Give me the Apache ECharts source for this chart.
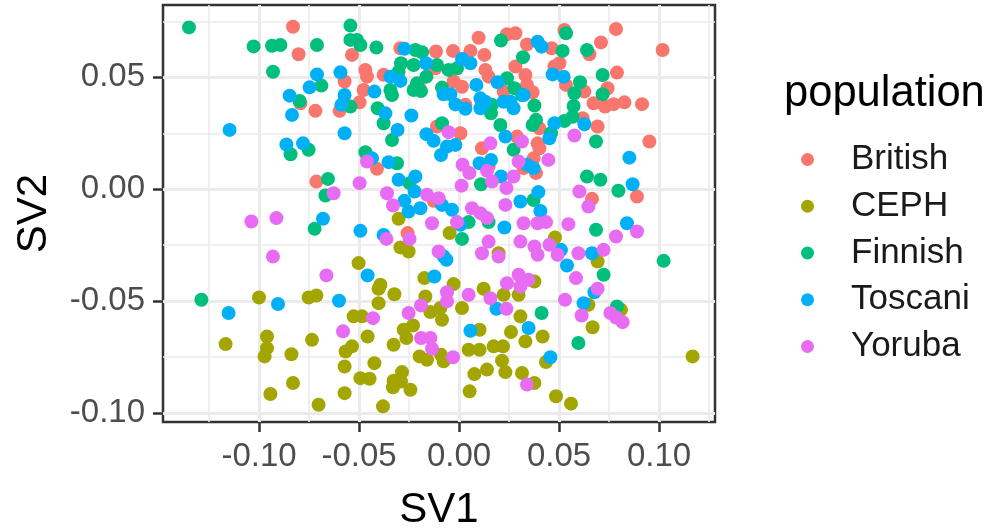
<!DOCTYPE html>
<html>
<head>
<meta charset="utf-8">
<script src="https://cdn.jsdelivr.net/npm/echarts@6/dist/echarts.min.js"></script>
<style>
html,body{margin:0;padding:0;background:#fff;}
#chart{width:993px;height:531px;}
</style>
</head>
<body>
<div id="chart"></div>
<script>
// ---- data ----
const populations = ['British', 'CEPH', 'Finnish', 'Toscani', 'Yoruba'];

const britishSV1 = [-0.083,-0.0802,-0.0572,-0.0793,-0.0718,-0.0597,0.0098,0.024,0.0282,0.034,-0.0535,-0.0293,-0.0115,-0.003,0.0057,0.0127,0.0282,0.0332,-0.0118,-0.0468,-0.046,-0.0377,0.0132,0.0148,-0.0027,0.0015,-0.0202,0.0223,-0.0477,0.034,0.0032,-0.0497,-0.011,0.0007,0.029,0.0527,0.0785,0.0463,0.0652,0.071,0.1018,0.0502,0.0477,0.0535,0.079,0.0743,0.0368,0.0627,0.0673,0.073,0.0773,0.0827,0.0915,0.0618,0.0693,0.0402,0.0952,0.0393,-0.0713,-0.041,0.0115,0.0323,-0.0127,-0.0257,0.0148,0.0402,0.0373,0.0385,0.089,0.0665];
const britishSV2 = [0.0726,0.0603,0.0481,0.0384,0.035,0.035,0.0677,0.0692,0.0697,0.0647,0.06,0.063,0.0615,0.0618,0.0618,0.06,0.0548,0.051,0.054,0.0533,0.0503,0.0511,0.0533,0.0503,0.0481,0.0458,0.0466,0.0436,0.0443,0.0466,0.0377,0.0388,0.028,0.025,0.0235,0.0711,0.0716,0.063,0.0603,0.0656,0.0622,0.0563,0.0548,0.0466,0.0521,0.0451,0.0433,0.0436,0.0384,0.0369,0.038,0.0388,0.038,0.0317,0.028,0.0272,0.0213,0.0205,0.0034,0.0091,0.0183,0.0094,-0.0052,-0.0196,0.0101,0.0183,0.0138,0.0072,-0.0033,-0.0043];

const cephSV1 = [-0.0302,-0.0047,-0.0293,-0.0252,0.0198,-0.0502,-0.0173,-0.0027,-0.0393,0.048,0.0693,0.0377,-0.1,-0.0752,-0.0713,-0.096,-0.0735,-0.1167,-0.096,-0.0972,-0.0838,-0.0567,-0.0572,-0.083,-0.0943,-0.0572,-0.0702,-0.0402,-0.0323,-0.0168,0.0123,0.0223,0.0298,-0.0402,-0.0143,-0.0093,0.0015,-0.0527,-0.0485,-0.0085,0.0307,-0.023,-0.0277,-0.0263,0.0103,0.026,-0.0457,-0.0327,-0.0535,0.0048,0.0103,0.0173,0.022,0.0332,-0.0197,-0.016,-0.009,-0.0077,-0.0423,0.0215,0.0232,0.014,0.0077,0.0315,-0.0285,-0.0327,-0.029,-0.0493,-0.0447,-0.033,-0.0243,0.0053,-0.038,0.0647,0.081,0.0418,0.0668,0.0435,0.1168,0.0377,0.0485,0.056];
const cephSV2 = [-0.0132,-0.0196,-0.026,-0.0278,-0.0286,-0.033,-0.0397,-0.0424,-0.0427,-0.0216,-0.0323,-0.0412,-0.0484,-0.0484,-0.0475,-0.0658,-0.0673,-0.0692,-0.071,-0.0747,-0.0737,-0.0725,-0.0792,-0.0866,-0.0915,-0.0911,-0.0963,-0.0445,-0.0469,-0.0479,-0.0445,-0.0472,-0.0472,-0.0509,-0.0549,-0.0531,-0.0531,-0.0568,-0.0568,-0.0583,-0.0568,-0.0609,-0.0628,-0.0665,-0.0628,-0.0638,-0.0658,-0.0695,-0.0702,-0.0717,-0.0717,-0.0702,-0.0702,-0.068,-0.0747,-0.0762,-0.074,-0.0769,-0.0777,-0.0766,-0.0817,-0.0806,-0.0826,-0.0821,-0.0817,-0.0856,-0.0859,-0.0844,-0.0847,-0.0885,-0.0896,-0.0903,-0.097,-0.0516,-0.0539,-0.0658,-0.0617,-0.0772,-0.0747,-0.0866,-0.0925,-0.0958];

const finnishSV1 = [-0.135,-0.1027,-0.0935,-0.0893,-0.071,-0.093,-0.0688,-0.0797,-0.0842,-0.0752,-0.0655,-0.0668,-0.0722,-0.0543,0.021,-0.0543,-0.051,-0.0493,-0.0413,-0.0218,-0.0185,0.032,-0.029,-0.0227,-0.011,-0.0052,-0.001,-0.0302,-0.0163,0.024,-0.0085,-0.021,-0.0227,-0.019,0.0277,-0.0343,-0.0335,0.0165,0.016,0.0315,-0.0407,-0.0543,-0.0377,-0.0085,0.0207,-0.0335,0.0535,0.0518,0.064,0.0605,0.0718,0.0577,0.0718,0.0377,0.0573,0.0568,0.0527,0.0385,0.0368,0.046,0.0685,-0.0468,-0.031,0.0273,0.011,-0.0247,0.0148,0.0048,0.0015,0.064,0.0707,0.0797,0.0373,0.0685,0.1023,0.0723,-0.1288,0.079,0.0413,0.0597];
const finnishSV2 = [0.0723,0.0638,0.0641,0.0644,0.0644,0.0525,0.0463,0.0394,0.0156,0.0176,0.0046,-0.0028,-0.0177,0.0731,0.0664,0.0667,0.0667,0.0644,0.0633,0.0622,0.0612,0.059,0.0563,0.0555,0.0555,0.0533,0.054,0.0525,0.0503,0.0496,0.0454,0.0473,0.0443,0.0439,0.0451,0.0443,0.0421,0.0377,0.0339,0.0421,0.0362,0.0369,0.0295,0.0295,0.0287,0.022,0.0697,0.0618,0.0622,0.0478,0.051,0.0429,0.0424,0.0374,0.0372,0.0324,0.0305,0.031,0.0287,0.025,0.0213,0.0165,0.0116,0.0176,0.0022,0.0027,-0.0147,-0.0147,-0.0222,0.0057,0.0042,-0.0007,-0.0048,-0.0181,-0.032,-0.0382,-0.0494,-0.0524,-0.0553,-0.0687];

const toscaniSV1 = [-0.071,-0.0593,-0.0747,-0.0847,-0.0835,-0.0588,-0.0572,-0.1147,-0.0572,-0.0863,-0.078,-0.0273,0.0015,0.0057,-0.0165,-0.0343,-0.0293,0.0193,0.0087,-0.0423,-0.0077,-0.0043,-0.0018,0.0032,0.0107,0.0132,0.0107,0.0223,0.0257,0.0273,0.0323,-0.0368,-0.0238,-0.0307,-0.0163,0.0232,-0.0127,0.0393,0.0413,0.0468,0.0523,0.0477,0.0627,0.0452,-0.068,-0.0435,-0.0352,-0.009,-0.006,-0.0018,0.0103,0.016,0.021,0.034,-0.0302,-0.0218,-0.0222,-0.0085,-0.0035,-0.0273,-0.0252,-0.0193,0.0007,0.0227,0.0307,-0.0493,-0.0377,-0.0077,-0.0063,-0.0457,-0.0123,0.0373,0.0852,0.0868,0.0397,0.0407,0.084,0.051,0.0665,0.054,-0.0905,-0.06,-0.1152,0.0187,0.0057,0.0348,0.0677,0.0623,0.0457];
const toscaniSV2 = [0.0513,0.0522,0.0455,0.0418,0.0332,0.0377,0.0421,0.0265,0.025,0.02,0.0205,0.0627,0.0582,0.0563,0.0563,0.0503,0.0484,0.0478,0.0466,0.0436,0.0424,0.0424,0.0379,0.0359,0.0406,0.0391,0.0362,0.0391,0.0391,0.0362,0.0421,0.0339,0.0329,0.0265,0.0246,0.0235,0.0216,0.0659,0.0637,0.0513,0.0503,0.0295,0.029,0.0228,-0.0132,0.0138,0.0121,0.0153,0.0191,0.0198,0.0116,0.0131,0.0057,0.0109,0.0042,0.0057,-0.001,-0.007,-0.0092,-0.0052,-0.01,-0.0085,-0.0159,-0.0171,-0.0055,-0.0186,-0.0204,-0.03,-0.0315,-0.0385,-0.039,0.0094,0.0141,0.0022,-0.0013,-0.0097,-0.0152,-0.0271,-0.0286,-0.0341,-0.0513,-0.0498,-0.0553,-0.0534,-0.0632,-0.062,-0.046,-0.0509,-0.0751];

const yorubaSV1 = [-0.0052,0.0157,0.0315,0.0577,-0.0627,-0.1038,-0.0913,-0.093,-0.0663,-0.046,0.0018,0.0052,0.014,0.0165,0.0273,0.0298,0.0237,0.0013,-0.0497,-0.036,-0.016,-0.0102,-0.033,0.0065,0.0107,0.014,-0.0135,-0.001,0.0232,0.0323,-0.0363,-0.0247,-0.0102,0.0148,0.0115,0.0198,0.0307,0.024,0.0298,0.0348,0.0447,0.0602,0.0647,0.0393,0.0435,0.0547,0.089,0.0785,0.0452,0.0377,0.0393,0.0493,0.0597,0.0723,0.0585,-0.058,-0.006,-0.006,0.0048,0.0157,0.0307,0.0237,-0.019,-0.0252,-0.043,-0.019,-0.0143,-0.0135,-0.003,0.034,0.0693,0.053,0.0613,0.0757,0.0785,0.0818];
const yorubaSV2 = [0.0255,0.0205,0.0213,0.024,-0.0018,-0.0144,-0.0129,-0.0301,-0.0385,0.0124,0.0109,0.0072,0.0082,0.0034,0.0057,0.0124,0.0005,0.0016,0.0027,-0.0018,-0.0025,-0.004,-0.0073,-0.0085,-0.0107,-0.0129,-0.0152,-0.0147,-0.007,-0.0152,-0.0222,-0.0222,-0.0278,-0.0234,-0.0286,-0.0301,-0.0234,-0.042,-0.0382,-0.0405,0.0131,-0.001,-0.0077,-0.0152,-0.0147,-0.0156,-0.0189,-0.0211,-0.0248,-0.0256,-0.0293,-0.0293,-0.0286,-0.0271,-0.0397,-0.0635,-0.046,-0.0501,-0.0472,-0.0487,-0.0434,-0.0534,-0.0519,-0.0553,-0.0576,-0.0665,-0.0665,-0.0713,-0.0751,-0.0873,-0.0445,-0.0494,-0.0564,-0.0553,-0.0573,-0.0594];

// axis breaks
const xMajorTicks = [-0.10, -0.05, 0.00, 0.05, 0.10];
const xMinorTicks = [-0.125, -0.075, -0.025, 0.025, 0.075, 0.125];
const yMajorTicks = [-0.10, -0.05, 0.00, 0.05];
const yMinorTicks = [-0.075, -0.025, 0.025, 0.075];

// ---- chart ----
const colors = ['#F8766D', '#A3A500', '#00BF7D', '#00B0F6', '#E76BF3'];
const seriesX = [britishSV1, cephSV1, finnishSV1, toscaniSV1, yorubaSV1];
const seriesY = [britishSV2, cephSV2, finnishSV2, toscaniSV2, yorubaSV2];

function zip(xs, ys) {
  const n = Math.min(xs.length, ys.length);
  const out = [];
  for (let i = 0; i < n; i++) out.push([xs[i], ys[i]]);
  return out;
}

const X_MIN = -0.148, X_MAX = 0.128, Y_MIN = -0.104, Y_MAX = 0.0823;
const FONT = "'Liberation Sans', Arial, Helvetica, sans-serif";
const gridColor = '#ebebeb';
const darkLine = '#333333';

const chart = echarts.init(document.getElementById('chart'), null, {renderer: 'canvas'});
chart.setOption({
  animation: false,
  backgroundColor: '#ffffff',
  textStyle: {fontFamily: FONT},
  color: colors,
  title: {
    text: 'population',
    left: 779,
    top: 67,
    textStyle: {fontSize: 43.5, fontWeight: 'normal', color: '#000000', fontFamily: FONT}
  },
  legend: {
    orient: 'vertical',
    left: 796,
    top: 137,
    itemWidth: 13,
    itemHeight: 13,
    itemGap: 11.75,
    icon: 'circle',
    data: populations,
    selectedMode: false,
    textStyle: {fontSize: 35, color: '#1a1a1a', fontFamily: FONT, lineHeight: 34, padding: [0, 0, 0, 32]}
  },
  grid: {
    left: 163, top: 5, width: 552, height: 417,
    containLabel: false,
    outerBoundsMode: 'none',
    show: true,
    backgroundColor: '#ffffff',
    borderColor: darkLine,
    borderWidth: 2.5
  },
  xAxis: [{
    type: 'value', min: X_MIN, max: X_MAX, position: 'bottom',
    name: 'SV1', nameLocation: 'middle', nameGap: 67, nameMoveOverlap: false,
    nameTextStyle: {fontSize: 42, color: '#000000', fontFamily: FONT},
    axisLine: {show: false, onZero: false},
    axisTick: {show: true, length: 10, customValues: xMajorTicks, lineStyle: {color: darkLine, width: 2.5}},
    axisLabel: {show: true, margin: 18, customValues: xMajorTicks, fontSize: 33, color: '#4d4d4d', fontFamily: FONT,
      formatter: v => v.toFixed(2)},
    splitLine: {show: true, lineStyle: {color: gridColor, width: 3}},
    minorSplitLine: {show: false}
  }, {
    type: 'value', min: X_MIN, max: X_MAX, position: 'top',
    axisLine: {show: false, onZero: false},
    axisTick: {show: false, customValues: xMinorTicks},
    axisLabel: {show: false, customValues: xMinorTicks},
    splitLine: {show: true, lineStyle: {color: gridColor, width: 1.6}}
  }],
  yAxis: [{
    type: 'value', min: Y_MIN, max: Y_MAX, position: 'left',
    name: 'SV2', nameLocation: 'middle', nameGap: 108, nameRotate: 90, nameMoveOverlap: false,
    nameTextStyle: {fontSize: 42, color: '#000000', fontFamily: FONT},
    axisLine: {show: false, onZero: false},
    axisTick: {show: true, length: 10, customValues: yMajorTicks, lineStyle: {color: darkLine, width: 2.5}},
    axisLabel: {show: true, margin: 18, customValues: yMajorTicks, fontSize: 33, color: '#4d4d4d', fontFamily: FONT,
      formatter: v => v.toFixed(2)},
    splitLine: {show: true, lineStyle: {color: gridColor, width: 3}},
    minorSplitLine: {show: false}
  }, {
    type: 'value', min: Y_MIN, max: Y_MAX, position: 'right',
    axisLine: {show: false, onZero: false},
    axisTick: {show: false, customValues: yMinorTicks},
    axisLabel: {show: false, customValues: yMinorTicks},
    splitLine: {show: true, lineStyle: {color: gridColor, width: 1.6}}
  }],
  series: populations.map((name, i) => ({
    name: name,
    type: 'scatter',
    xAxisIndex: 0,
    yAxisIndex: 0,
    symbol: 'circle',
    symbolSize: 14,
    itemStyle: {color: colors[i], opacity: 1},
    emphasis: {disabled: true},
    data: zip(seriesX[i], seriesY[i])
  }))
});
</script>
</body>
</html>
